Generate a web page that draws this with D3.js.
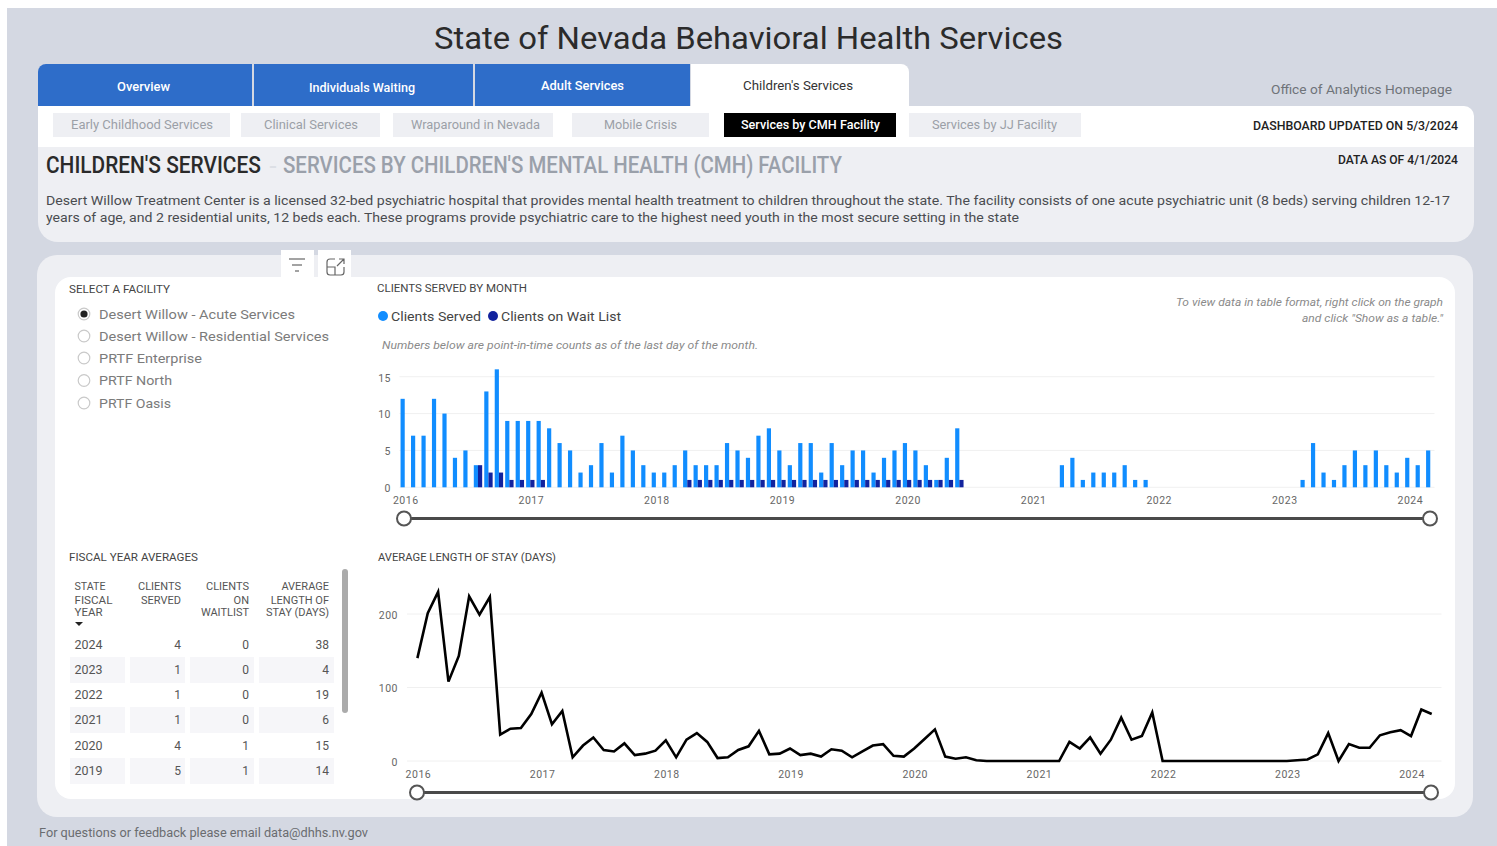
<!DOCTYPE html>
<html><head><meta charset="utf-8">
<script src="https://cdn.jsdelivr.net/npm/d3@7/dist/d3.min.js"></script>
<style>html,body{margin:0;padding:0;background:#fff;overflow:hidden}svg{display:block}text{font-family:Roboto,"Noto Sans",sans-serif}</style>
</head><body><svg id="c" width="1497" height="846"></svg>
<script>
const months=["2016-01","2016-02","2016-03","2016-04","2016-05","2016-06","2016-07","2016-08","2016-09","2016-10","2016-11","2016-12",
"2017-01","2017-02","2017-03","2017-04","2017-05","2017-06","2017-07","2017-08","2017-09","2017-10","2017-11","2017-12",
"2018-01","2018-02","2018-03","2018-04","2018-05","2018-06","2018-07","2018-08","2018-09","2018-10","2018-11","2018-12",
"2019-01","2019-02","2019-03","2019-04","2019-05","2019-06","2019-07","2019-08","2019-09","2019-10","2019-11","2019-12",
"2020-01","2020-02","2020-03","2020-04","2020-05","2020-06","2020-07","2020-08","2020-09","2020-10","2020-11","2020-12",
"2021-01","2021-02","2021-03","2021-04","2021-05","2021-06","2021-07","2021-08","2021-09","2021-10","2021-11","2021-12",
"2022-01","2022-02","2022-03","2022-04","2022-05","2022-06","2022-07","2022-08","2022-09","2022-10","2022-11","2022-12",
"2023-01","2023-02","2023-03","2023-04","2023-05","2023-06","2023-07","2023-08","2023-09","2023-10","2023-11","2023-12",
"2024-01","2024-02","2024-03"];
const clientsServed=[12,7,7,12,10,4,5,3,13,16,9,9, 9,9,8,6,5,2,3,6,2,7,5,3, 2,2,3,5,3,3,3,6,5,4,7,8, 5,3,6,6,2,6,3,5,5,2,4,5, 6,5,3,1,4,8,0,0,0,0,0,0, 0,0,0,3,4,1,2,2,2,3,1,1, 0,0,0,0,0,0,0,0,0,0,0,0, 0,0,1,6,2,1,3,5,3,5,3,2, 4,3,5];
const clientsWaiting=[0,0,0,0,0,0,0,3,2,2,1,1, 1,1,0,0,0,0,0,0,0,0,0,0, 0,0,0,1,1,1,1,1,1,1,1,1, 1,1,1,1,1,1,1,1,1,1,1,1, 1,1,1,1,1,1,0,0,0,0,0,0, 0,0,0,0,0,0,0,0,0,0,0,0, 0,0,0,0,0,0,0,0,0,0,0,0, 0,0,0,0,0,0,0,0,0,0,0,0, 0,0,0];
const lengthOfStay=[140,201,230,108,143,224,199,223,36,44,45,64, 93,50,68,5,21,32,15,13,24,8,10,14, 28,5,29,38,26,4,5,15,20,41,9,10, 17,8,10,6,16,14,5,13,21,23,7,6, 17,30,43,6,3,5,1,0,0,0,0,0, 0,0,0,26,17,32,10,29,59,29,34,66, 0,0,0,0,0,0,0,0,0,0,0,0, 0,1,2,9,38,0,23,18,18,35,39,42, 34,70,64];
const yearTicks=["2016-01","2017-01","2018-01","2019-01","2020-01","2021-01","2022-01","2023-01","2024-01"];
const servedTicks=[0,5,10,15];
const stayTicks=[0,100,200];
const facilities=["Desert Willow - Acute Services","Desert Willow - Residential Services","PRTF Enterprise","PRTF North","PRTF Oasis"];
const fiscalYears=["2024","2023","2022","2021","2020","2019"];
const fyServed=[4,1,1,1,4,5];
const fyWaitlist=[0,0,0,0,1,1];
const fyStay=[38,4,19,6,15,14];
const mainTabs=["Overview","Individuals Waiting","Adult Services"];
const subTabs=["Early Childhood Services","Clinical Services","Wraparound in Nevada","Mobile Crisis","Services by CMH Facility","Services by JJ Facility"];

const svg=d3.select("#c");
function rect(x,y,w,h,fill,r){return svg.append("rect").attr("x",x).attr("y",y).attr("width",w).attr("height",h).attr("fill",fill).attr("rx",r||0);}
function txt(s,x,y,size,fill,o){o=o||{};
  const t=svg.append("text").text(s).attr("x",x).attr("y",y).attr("font-size",size).attr("fill",fill)
   .attr("text-anchor",o.anchor||"start").attr("font-weight",o.weight||400).attr("font-style",o.italic?"italic":"normal");
  if(o.w)t.attr("textLength",o.w).attr("lengthAdjust","spacingAndGlyphs");
  return t;}
function squeezed(s,x,y,size,fill,w,weight){
  const t=svg.append("text").text(s).attr("font-size",size).attr("fill",fill).attr("font-weight",weight);
  t.attr("transform",`translate(${x},${y}) scale(${w/t.node().getComputedTextLength()},1)`);
  return t;}

// page
rect(7,8,1490,838,"#d4d8e2");
txt("State of Nevada Behavioral Health Services",434,49,32,"#2b2b2b",{w:629});

// header tabs
const tabTextX=[[117,53,91],[309,106,92],[541,83,90]];
svg.append("path").attr("fill","#2e6dc9").attr("d","M38 106V72a8 8 0 0 1 8-8H252V106Z");
rect(254,64,219,42,"#2e6dc9");rect(475,64,215,42,"#2e6dc9");
mainTabs.forEach((t,i)=>txt(t,tabTextX[i][0],tabTextX[i][2],12,"#fff",{w:tabTextX[i][1],weight:500}));
svg.append("path").attr("fill","#fff").attr("d","M691 106V64H901a8 8 0 0 1 8 8V106Z");
txt("Children's Services",743,90,12,"#333",{w:110});
txt("Office of Analytics Homepage",1271,94,12.5,"#6f7379",{w:181});

// white band and grey intro panel
svg.append("path").attr("fill","#fff").attr("d","M38 106H1464a10 10 0 0 1 10 10V147H38Z");
svg.append("path").attr("fill","#eeeff3").attr("d","M38 147H1474V222a20 20 0 0 1 -20 20H58a20 20 0 0 1 -20 -20Z");
const subBox=[[53,177],[241,139],[393,160],[572,137],[724,172],[909,172]];
const subText=[[71,142],[264,94],[411,129],[604,73],[741,139],[932,125]];
subTabs.forEach((t,i)=>{const on=i===4;
  rect(subBox[i][0],113,subBox[i][1],24,on?"#000":"#eeeff3");
  txt(t,subText[i][0],129,12,on?"#fff":"#9b9fa7",{w:subText[i][1],weight:on?500:400});});
txt("DASHBOARD UPDATED ON 5/3/2024",1253,130,12,"#222",{w:205,weight:500});
txt("DATA AS OF 4/1/2024",1338,164,12,"#222",{w:120,weight:500});
squeezed("CHILDREN'S SERVICES",46,173,23,"#2a2a2a",215,500);
squeezed("-",269,173,20,"#dcdfe5",8,500);
squeezed("SERVICES BY CHILDREN'S MENTAL HEALTH (CMH) FACILITY",283,173,23,"#9aa0aa",559,500);
txt("Desert Willow Treatment Center is a licensed 32-bed psychiatric hospital that provides mental health treatment to children throughout the state. The facility consists of one acute psychiatric unit (8 beds) serving children 12-17",46,204.5,12.5,"#4a4c50",{w:1404});
txt("years of age, and 2 residential units, 12 beds each. These programs provide psychiatric care to the highest need youth in the most secure setting in the state",46,221.5,12.5,"#4a4c50",{w:973});

// lower panels
rect(37,255,1436,562,"#eeeff3",20);
rect(281,250,33,30,"#fff");rect(318,250,33,30,"#fff");
rect(55,277,1400,522,"#fff",16);
[[289,305,259],[292,302,265],[295,299,271]].forEach(l=>svg.append("line").attr("x1",l[0]).attr("x2",l[1]).attr("y1",l[2]).attr("y2",l[2]).attr("stroke","#666").attr("stroke-width",1.2));
svg.append("path").attr("fill","none").attr("stroke","#666").attr("stroke-width",1.2)
 .attr("d","M335 259H330a3 3 0 0 0 -3 3V272a3 3 0 0 0 3 3H341a3 3 0 0 0 3 -3V267M327 267H335V275M337 266L344 259M339 259H344V264");

// facility slicer
txt("SELECT A FACILITY",69,293,11,"#444",{w:101});
const facY=[314,336,358,380.5,403], facW=[196,230,103,73,72];
svg.selectAll(".fac").data(facilities).join("g").attr("class","fac").each(function(d,i){
  const g=d3.select(this);
  g.append("circle").attr("cx",84).attr("cy",facY[i]).attr("r",5.8).attr("fill","#fff").attr("stroke","#c9c9c9").attr("stroke-width",1.2);
  if(i===0)g.append("circle").attr("cx",84).attr("cy",facY[i]).attr("r",3.6).attr("fill","#222");
  g.append("text").text(d).attr("x",99).attr("y",facY[i]+4.5).attr("font-size",13).attr("fill","#7b7b7b")
   .attr("textLength",facW[i]).attr("lengthAdjust","spacingAndGlyphs");
});

// bar chart
txt("CLIENTS SERVED BY MONTH",377,292,11,"#444",{w:150});
svg.append("circle").attr("cx",383).attr("cy",316).attr("r",5).attr("fill","#118dff");
txt("Clients Served",391,321,13,"#444",{w:90});
svg.append("circle").attr("cx",493).attr("cy",316).attr("r",5).attr("fill","#12239e");
txt("Clients on Wait List",501,321,13,"#444",{w:120});
txt("Numbers below are point-in-time counts as of the last day of the month.",382,349,11,"#8a8a8a",{w:376,italic:true});
txt("To view data in table format, right click on the graph",1176,306,11,"#8a8a8a",{w:267,italic:true});
txt('and click "Show as a table."',1302,322,11,"#8a8a8a",{w:141,italic:true});

const xBar=d3.scaleBand().domain(months).range([399.5,1435.5]).paddingInner(0.2).paddingOuter(0.1);
const ySer=d3.scaleBand().domain(["served","wait"]).range([0,xBar.bandwidth()]);
const yBar=d3.scaleLinear().domain([0,15]).range([487.3,376.7]);
function axisStyle(g,color){g.select(".domain").remove();g.selectAll(".tick line").remove();
  g.selectAll("text").attr("fill",color).attr("font-size",10.5).attr("font-family","Roboto,sans-serif").attr("letter-spacing","0.5px");}
svg.append("g").selectAll("line").data(servedTicks).join("line").attr("x1",399.5).attr("x2",1434.5)
  .attr("y1",d=>yBar(d)).attr("y2",d=>yBar(d)).attr("stroke","#f0f0f0").attr("stroke-width",1);
svg.append("g").attr("transform","translate(395,1)").call(d3.axisLeft(yBar).tickValues(servedTicks).tickSize(0).tickPadding(4)).call(axisStyle,"#666");
svg.append("g").attr("transform","translate(1,492)").call(d3.axisBottom(xBar).tickValues(yearTicks).tickSize(0).tickPadding(5).tickFormat(d=>d.slice(0,4))).call(axisStyle,"#666");
svg.append("g").selectAll("rect").data(months).join("rect").attr("x",d=>xBar(d)+ySer("served")).attr("width",ySer.bandwidth())
  .attr("y",(d,i)=>yBar(clientsServed[i])).attr("height",(d,i)=>yBar(0)-yBar(clientsServed[i])).attr("fill","#118dff");
svg.append("g").selectAll("rect").data(months).join("rect").attr("x",d=>xBar(d)+ySer("wait")).attr("width",ySer.bandwidth())
  .attr("y",(d,i)=>yBar(clientsWaiting[i])).attr("height",(d,i)=>yBar(0)-yBar(clientsWaiting[i])).attr("fill","#12239e");
function slider(x1,x2,y){
  svg.append("line").attr("x1",x1).attr("x2",x2).attr("y1",y).attr("y2",y).attr("stroke","#4a4a4a").attr("stroke-width",3);
  [x1,x2].forEach(x=>svg.append("circle").attr("cx",x).attr("cy",y).attr("r",7).attr("fill","#fff").attr("stroke","#555").attr("stroke-width",2));}
slider(404,1430,518.5);

// line chart
txt("AVERAGE LENGTH OF STAY (DAYS)",378,561,11,"#444",{w:178});
const xLine=d3.scalePoint().domain(months).range([417.4,1431.7]);
const yLine=d3.scaleLinear().domain([0,200]).range([761,614]);
svg.append("g").selectAll("line").data(stayTicks).join("line").attr("x1",407).attr("x2",1441.5)
  .attr("y1",d=>yLine(d)).attr("y2",d=>yLine(d)).attr("stroke","#f0f0f0").attr("stroke-width",1);
svg.append("g").attr("transform","translate(402,1)").call(d3.axisLeft(yLine).tickValues(stayTicks).tickSize(0).tickPadding(4)).call(axisStyle,"#666");
svg.append("g").attr("transform","translate(0.5,766)").call(d3.axisBottom(xLine).tickValues(yearTicks).tickSize(0).tickPadding(5).tickFormat(d=>d.slice(0,4))).call(axisStyle,"#666");
svg.append("path").datum(lengthOfStay).attr("fill","none").attr("stroke","#000").attr("stroke-width",2.6).attr("stroke-linejoin","miter")
  .attr("d",d3.line().x((d,i)=>xLine(months[i])).y(d=>yLine(d)));
slider(417,1431,792.5);

// table
txt("FISCAL YEAR AVERAGES",69,561,11,"#444",{w:129});
const rowY=[645,670,695,720,746,771];
const colBg=[[70,55],[130,55],[190,64],[259,75]];
fiscalYears.forEach((fy,i)=>{
  if(i%2===1)colBg.forEach(c=>rect(c[0],rowY[i]-13,c[1],26,"#f6f6f9"));
  txt(fy,74.5,rowY[i]+4,12,"#555",{w:28});
  txt(fyServed[i],181,rowY[i]+4,12,"#555",{anchor:"end"});
  txt(fyWaitlist[i],249,rowY[i]+4,12,"#555",{anchor:"end"});
  txt(fyStay[i],329,rowY[i]+4,12,"#555",{anchor:"end"});
});
[["STATE",74.5,590,31],["FISCAL",74.5,604,38],["YEAR",74.5,616,28]].forEach(h=>txt(h[0],h[1],h[2],11,"#555",{w:h[3]}));
[["CLIENTS",181,590],["SERVED",181,604],["CLIENTS",249,590],["ON",249,604],["WAITLIST",249,616],["AVERAGE",329,590],["LENGTH OF",329,604],["STAY (DAYS)",329,616]]
  .forEach(h=>txt(h[0],h[1],h[2],11,"#555",{anchor:"end"}));
svg.append("path").attr("d","M75 622H83L79 626Z").attr("fill","#222");
rect(342,569,6,144,"#ababab",3);

txt("For questions or feedback please email data@dhhs.nv.gov",39,837,12,"#6a6c70",{w:329});
</script></body></html>
